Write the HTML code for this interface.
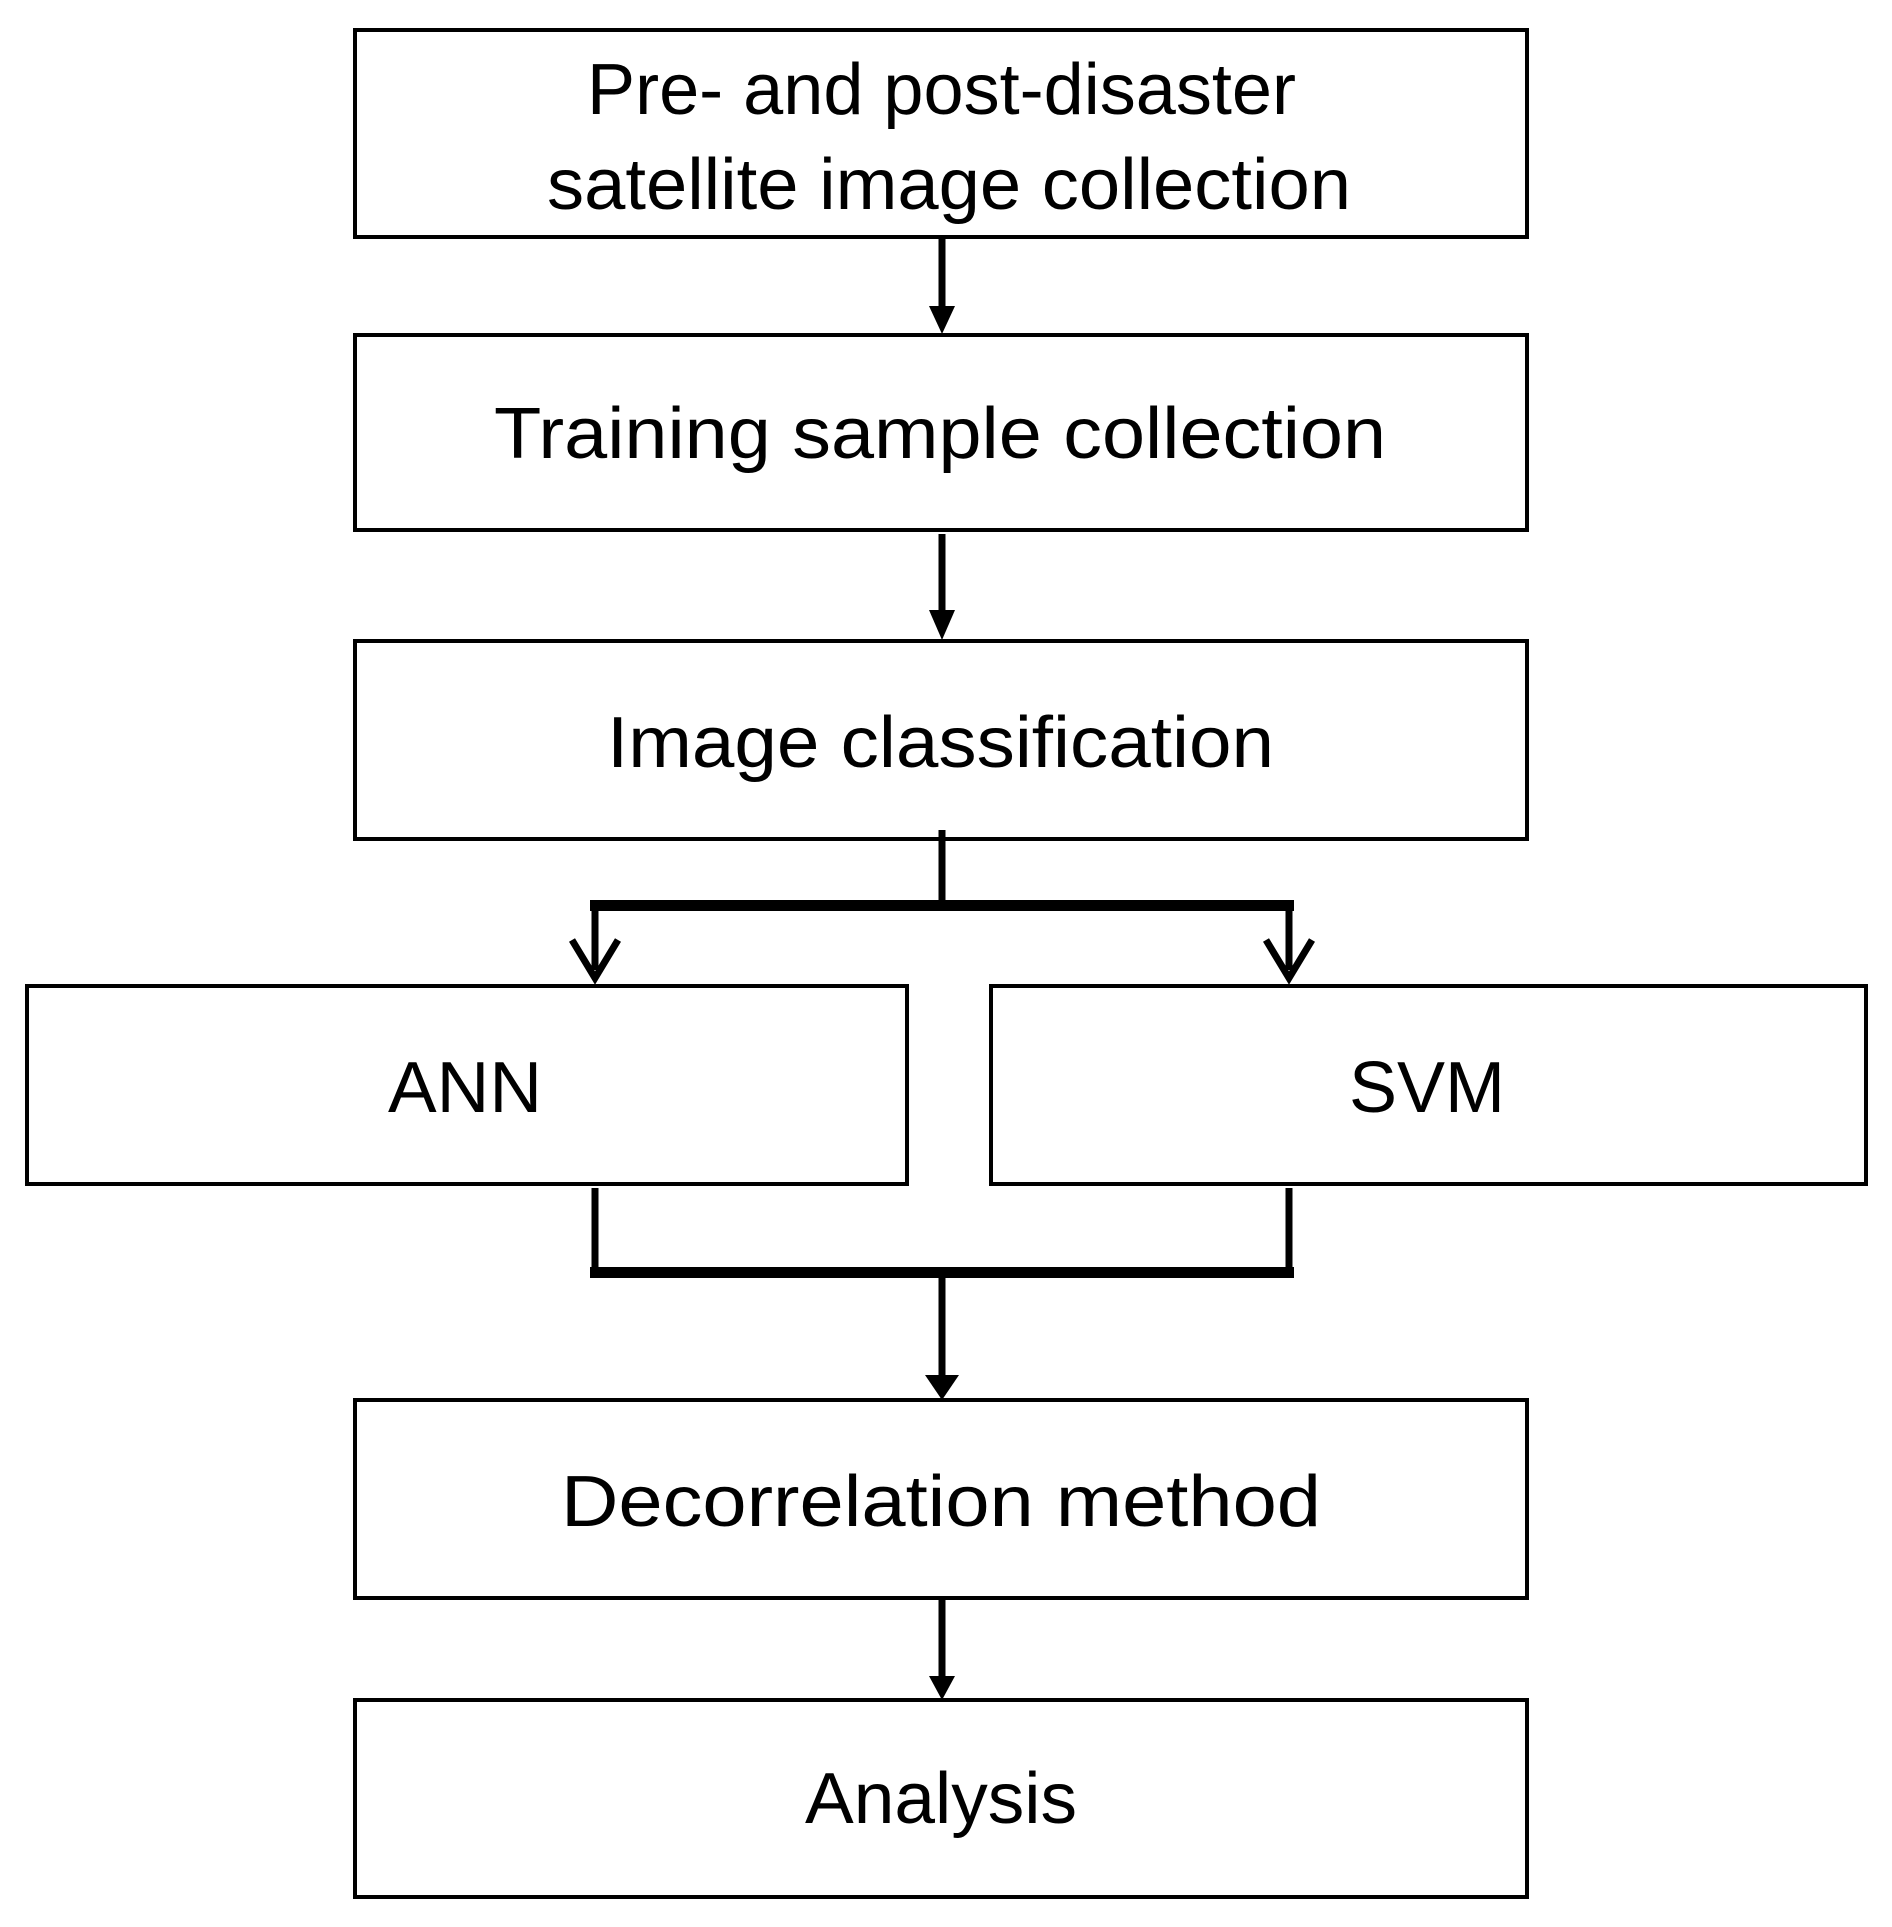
<!DOCTYPE html>
<html><head><meta charset="utf-8"><style>html,body{margin:0;padding:0;background:#fff}svg{display:block}</style></head>
<body>
<svg width="1892" height="1927" viewBox="0 0 1892 1927" xmlns="http://www.w3.org/2000/svg" font-family="Liberation Sans, sans-serif" font-size="72" fill="#000">
<g fill="none" stroke="#000" stroke-width="4">
<rect x="355" y="30" width="1172" height="207"/>
<rect x="355" y="335" width="1172" height="195"/>
<rect x="355" y="641" width="1172" height="198"/>
<rect x="27" y="986" width="880" height="198"/>
<rect x="991" y="986" width="875" height="198"/>
<rect x="355" y="1400" width="1172" height="198"/>
<rect x="355" y="1700" width="1172" height="197"/>
</g>
<g stroke="#000" stroke-width="7" fill="none">
<line x1="942" y1="237" x2="942" y2="310"/>
<line x1="942" y1="534" x2="942" y2="615"/>
<line x1="942" y1="830" x2="942" y2="905"/>
<line x1="595" y1="905" x2="595" y2="970"/>
<line x1="1289" y1="905" x2="1289" y2="970"/>
<line x1="595" y1="1188" x2="595" y2="1273"/>
<line x1="1289" y1="1188" x2="1289" y2="1273"/>
<line x1="942" y1="1273" x2="942" y2="1380"/>
<line x1="942" y1="1598" x2="942" y2="1680"/>
</g>
<rect x="590" y="900" width="704" height="11" fill="#000"/>
<rect x="590" y="1267" width="704" height="11" fill="#000"/>
<g fill="#000">
<polygon points="929,306 955,306 942,334"/>
<polygon points="929,610 955,610 942,640"/>
<polygon points="925,1375 959,1375 942,1400"/>
<polygon points="929,1676 955,1676 942,1700"/>
</g>
<g stroke="#000" stroke-width="7" fill="none" stroke-linejoin="miter">
<polyline points="572,940 595,978 618,940"/>
<polyline points="1266,940 1289,978 1312,940"/>
</g>
<text x="587" y="114" textLength="709" lengthAdjust="spacingAndGlyphs">Pre- and post-disaster</text>
<text x="547" y="209" textLength="804" lengthAdjust="spacingAndGlyphs">satellite image collection</text>
<text x="494" y="458" textLength="892" lengthAdjust="spacingAndGlyphs">Training sample collection</text>
<text x="607" y="767" textLength="667" lengthAdjust="spacingAndGlyphs">Image classification</text>
<text x="388" y="1112" textLength="154" lengthAdjust="spacingAndGlyphs">ANN</text>
<text x="1349" y="1112" textLength="156" lengthAdjust="spacingAndGlyphs">SVM</text>
<text x="561" y="1526" textLength="760" lengthAdjust="spacingAndGlyphs">Decorrelation method</text>
<text x="805" y="1823" textLength="272" lengthAdjust="spacingAndGlyphs">Analysis</text>
</svg>
</body></html>
